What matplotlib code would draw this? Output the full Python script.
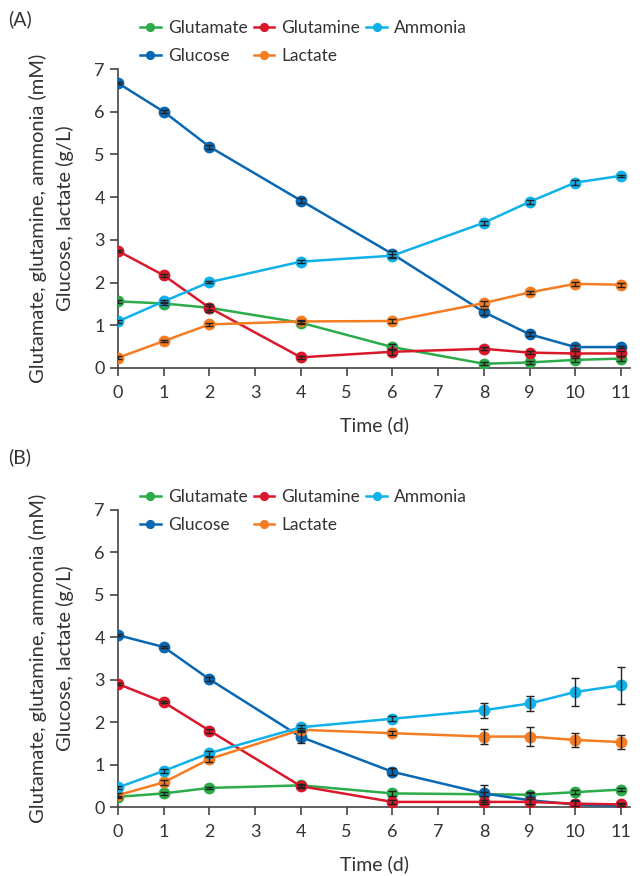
import matplotlib.pyplot as plt
import numpy as np

plt.rcParams['font.family'] = ['Lato', 'DejaVu Sans']

days = [0, 1, 2, 4, 6, 8, 9, 10, 11]
names = ['Glutamate', 'Glucose', 'Glutamine', 'Lactate', 'Ammonia']
colors = {'Glutamate': '#2bab4a', 'Glutamine': '#d9192b', 'Ammonia': '#10b1e9',
          'Glucose': '#0a68b3', 'Lactate': '#f47c22'}

# panel A
a_glutamate = [1.56, 1.51, 1.41, 1.06, 0.49, 0.10, 0.13, 0.19, 0.22]
a_glucose = [6.67, 6.00, 5.18, 3.92, 2.67, 1.31, 0.79, 0.49, 0.49]
a_glutamine = [2.74, 2.17, 1.41, 0.25, 0.38, 0.45, 0.36, 0.34, 0.34]
a_lactate = [0.24, 0.63, 1.02, 1.09, 1.10, 1.52, 1.77, 1.97, 1.95]
a_ammonia = [1.09, 1.56, 2.01, 2.49, 2.63, 3.40, 3.89, 4.34, 4.50]
a_glutamate_err = [0.03, 0.03, 0.05, 0.04, 0.08, 0.04, 0.03, 0.05, 0.06]
a_glucose_err = [0.03, 0.03, 0.05, 0.05, 0.07, 0.06, 0.05, 0.04, 0.03]
a_glutamine_err = [0.03, 0.03, 0.10, 0.03, 0.07, 0.04, 0.04, 0.05, 0.05]
a_lactate_err = [0.03, 0.03, 0.04, 0.04, 0.05, 0.06, 0.04, 0.05, 0.05]
a_ammonia_err = [0.03, 0.03, 0.03, 0.04, 0.05, 0.05, 0.05, 0.05, 0.03]

# panel B
b_glutamate = [0.24, 0.32, 0.45, 0.51, 0.32, 0.30, 0.29, 0.35, 0.41]
b_glucose = [4.05, 3.77, 3.01, 1.65, 0.83, 0.32, 0.16, 0.06, 0.02]
b_glutamine = [2.90, 2.47, 1.80, 0.49, 0.12, 0.12, 0.12, 0.08, 0.06]
b_lactate = [0.28, 0.58, 1.13, 1.82, 1.74, 1.66, 1.66, 1.58, 1.53]
b_ammonia = [0.46, 0.85, 1.27, 1.88, 2.08, 2.28, 2.44, 2.71, 2.87]
b_glutamate_err = [0.03, 0.03, 0.03, 0.03, 0.05, 0.05, 0.05, 0.04, 0.04]
b_glucose_err = [0.03, 0.03, 0.05, 0.15, 0.08, 0.20, 0.20, 0.10, 0.05]
b_glutamine_err = [0.03, 0.03, 0.05, 0.04, 0.05, 0.05, 0.06, 0.06, 0.04]
b_lactate_err = [0.05, 0.05, 0.06, 0.05, 0.05, 0.17, 0.22, 0.16, 0.17]
b_ammonia_err = [0.03, 0.05, 0.06, 0.06, 0.06, 0.18, 0.17, 0.34, 0.44]

panels = [
    ('(A)', [a_glutamate, a_glucose, a_glutamine, a_lactate, a_ammonia],
     [a_glutamate_err, a_glucose_err, a_glutamine_err, a_lactate_err, a_ammonia_err]),
    ('(B)', [b_glutamate, b_glucose, b_glutamine, b_lactate, b_ammonia],
     [b_glutamate_err, b_glucose_err, b_glutamine_err, b_lactate_err, b_ammonia_err]),
]

fig = plt.figure(figsize=(6.43, 8.76), dpi=100)
W, H = 643, 876
# (left px, top px of y=7, bottom px of y=0, tag y px, legend centre y px)
boxes = [(118, 69, 368, 19, 42), (118, 510, 807, 457, 511)]
xmax = 11.2
ylabel_lines = ['Glutamate, glutamine, ammonia (mM)', 'Glucose, lactate (g/L)']
ylabel_x = [38, 65]
text_col = '#333333'

for (tag, series, errs), (left, top, bottom, tag_y, leg_y) in zip(panels, boxes):
    width = 503 * xmax / 11
    ax = fig.add_axes([left / W, 1 - bottom / H, width / W, (bottom - top) / H])
    handles = []
    for name, vals, err in zip(names, series, errs):
        c = colors[name]
        ax.errorbar(days, vals, yerr=err, fmt='none', ecolor='#222222',
                    elinewidth=1, capsize=3, capthick=1, zorder=4)
        h, = ax.plot(days, vals, color=c, lw=1.8, marker='o', ms=7.5,
                     mec=c, mfc=c, zorder=3, label=name)
        handles.append(h)
    ax.set_xlim(0, xmax)
    ax.set_ylim(0, 7)
    ax.set_xticks(range(12))
    ax.set_yticks(range(8))
    for s in ['top', 'right']:
        ax.spines[s].set_visible(False)
    for s in ['left', 'bottom']:
        ax.spines[s].set_color('#444444')
        ax.spines[s].set_linewidth(1.2)
    ax.spines['left'].set_bounds(0, 7)
    ax.tick_params(labelsize=13, colors='#444444', labelcolor=text_col,
                   length=6, width=1.2)
    ax.tick_params(axis='x', pad=6)
    ax.set_xlabel('Time (d)', fontsize=14, color=text_col, labelpad=11)
    # two-line y label placed line by line
    yc = 1 - (top + bottom) / 2 / H
    for txt, xp in zip(ylabel_lines, ylabel_x):
        fig.text(xp / W, yc, txt, rotation=90, fontsize=14.5, color=text_col,
                 ha='center', va='center')
    fig.text(8 / W, 1 - tag_y / H, tag, fontsize=14, color=text_col,
             va='center', ha='left')
    ax.legend(handles=handles, ncol=3, loc='center left',
              bbox_to_anchor=(140 / W, 1 - leg_y / H),
              bbox_transform=fig.transFigure, frameon=False, fontsize=12.5,
              handlelength=1.2, handletextpad=0.4, columnspacing=0.35,
              labelspacing=0.65, labelcolor=text_col, markerscale=0.75,
              borderpad=0, borderaxespad=0)

fig.savefig('out.png', dpi=100)
